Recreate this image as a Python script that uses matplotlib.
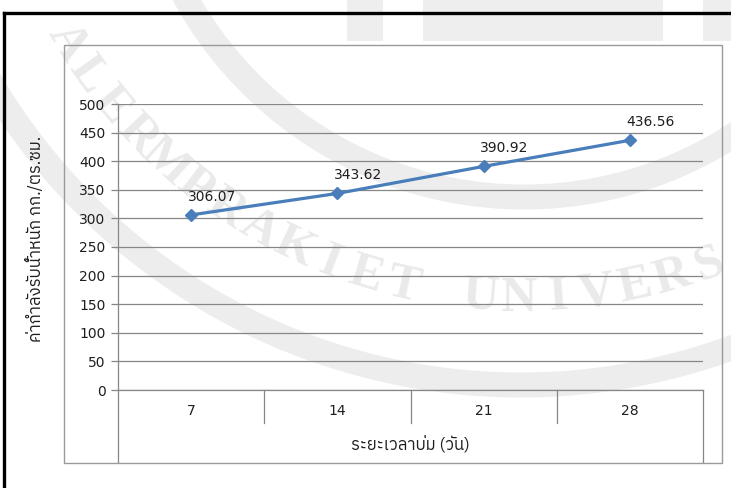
import numpy as np
import matplotlib
matplotlib.use("Agg")
import matplotlib.pyplot as plt
import matplotlib.transforms as mtransforms
from matplotlib import font_manager
from matplotlib.ft2font import FT2Font
from matplotlib.patches import Rectangle, Arc

# curing age (days) vs. compressive strength
days = ["7", "14", "21", "28"]
strength = [306.07, 343.62, 390.92, 436.56]
y_ticks = [0, 50, 100, 150, 200, 250, 300, 350, 400, 450, 500]
y_label = "ค่ากำลังรับน้ำหนัก กก./ตร.ซม."
x_label = "ระยะเวลาบ่ม (วัน)"
seal_text = "ALERMPRAKIET UNIVERS"


def find_thai_font():
    # look for an installed font that actually has Thai glyphs
    best = None
    for f in font_manager.fontManager.ttflist:
        try:
            cmap = FT2Font(f.fname).get_charmap()
        except Exception:
            continue
        if 0x0E01 in cmap and 0x0E48 in cmap:
            if "Thai" in f.name or best is None:
                best = f.name
            if "Thai" in f.name and "Looped" not in f.name:
                return f.name
    return best


thai = find_thai_font()
thai_family = [thai, "DejaVu Sans"] if thai else ["DejaVu Sans"]

plt.rcParams["font.family"] = ["DejaVu Sans"]
plt.rcParams["font.size"] = 10

W, H = 731, 488
fig = plt.figure(figsize=(W / 100, H / 100), dpi=100)


def px(x, y):
    # pixel position (from top-left) -> figure fraction
    return x / W, 1 - y / H


# faint university seal behind the page
for x0, x1 in [(347, 383), (423, 663), (703, 731)]:
    fig.add_artist(Rectangle(px(x0, 41), (x1 - x0) / W, 41 / H, color="#eeeeee",
                             lw=0, zorder=-3))
rings = [((521, -231), 616, 175, 358, 18),
         ((524, -190), 387, 185, 355, 18)]
for (rx, ry), r, t1, t2, lw in rings:
    fig.add_artist(Arc(px(rx, ry), 2 * r / W, 2 * r / H, theta1=t1, theta2=t2,
                       color="#ededed", lw=lw, zorder=-3, transform=fig.transFigure))
cx, cy = 521, -231
r_txt, step, th0 = 530, 4.2, 149.0
for k, ch in enumerate(seal_text):
    th = np.deg2rad(th0 - k * step)
    xx = cx + r_txt * np.cos(th)
    yy = cy + r_txt * np.sin(th)
    fig.text(*px(xx, yy), ch, rotation=90 - np.rad2deg(th), ha="center", va="center",
             fontsize=36, family="Liberation Serif", fontweight="bold", color="#eaeaea",
             zorder=-2, rotation_mode="anchor")

# page frame and chart box
fig.add_artist(plt.Line2D([3.5 / W, 3.5 / W], [0, 1 - 13 / H], color="black", lw=2.4))
fig.add_artist(plt.Line2D([3.5 / W, 1], [1 - 13 / H, 1 - 13 / H], color="black", lw=2.4))
fig.add_artist(Rectangle(px(64, 463), (722 - 64) / W, (463 - 45) / H,
                         fill=False, edgecolor="#9a9a9a", lw=1.0))

left, right, top, bottom = 118, 703, 104, 390
ax = fig.add_axes([left / W, 1 - bottom / H, (right - left) / W, (bottom - top) / H])
ax.patch.set_alpha(0)

x = list(range(len(days)))
ax.plot(x, strength, color="#4A7EBB", lw=2.3, marker="D", markersize=6.5,
        markerfacecolor="#4A7EBB", markeredgecolor="#4A7EBB", zorder=3)
for xi, v in zip(x, strength):
    ax.annotate(f"{v:.2f}", (xi, v), xytext=(15, 13), textcoords="offset points",
                ha="center", va="center", fontsize=10, color="#1e1e1e")

ax.set_xlim(-0.5, len(days) - 0.5)
ax.set_ylim(0, 500)
ax.set_yticks(y_ticks)
ax.yaxis.grid(True, color="#868686", lw=0.9)
ax.set_axisbelow(True)
ax.tick_params(axis="y", length=5, width=0.9, color="#868686", pad=4, labelsize=10,
               labelcolor="#1e1e1e")
ax.tick_params(axis="x", length=0, labelbottom=False)

for s in ["top", "right"]:
    ax.spines[s].set_visible(False)
for s in ["left", "bottom"]:
    ax.spines[s].set_color("#868686")
    ax.spines[s].set_linewidth(0.9)

# category axis: separators below the zero line and labels
trans = mtransforms.blended_transform_factory(ax.transData, ax.transAxes)
ph = bottom - top
for b in range(len(days) + 1):
    xb = b - 0.5
    depth = (462 - bottom) / ph if b in (0, len(days)) else (423 - bottom) / ph
    ax.plot([xb, xb], [0, -depth], transform=trans, color="#868686", lw=0.9, clip_on=False)
for xi, d in zip(x, days):
    ax.text(xi, -(411 - bottom) / ph, d, transform=trans, ha="center", va="center",
            fontsize=10, color="#1e1e1e")

ax.text(0.5, -(444 - bottom) / ph, x_label, transform=ax.transAxes, ha="center",
        va="center", fontsize=12, family=thai_family, color="#1e1e1e")
ax.set_ylabel(y_label, family=thai_family, fontsize=12, color="#1e1e1e")
ax.yaxis.set_label_coords(-(left - 44) / (right - left), 0.53)

fig.savefig("out.png", dpi=100)
